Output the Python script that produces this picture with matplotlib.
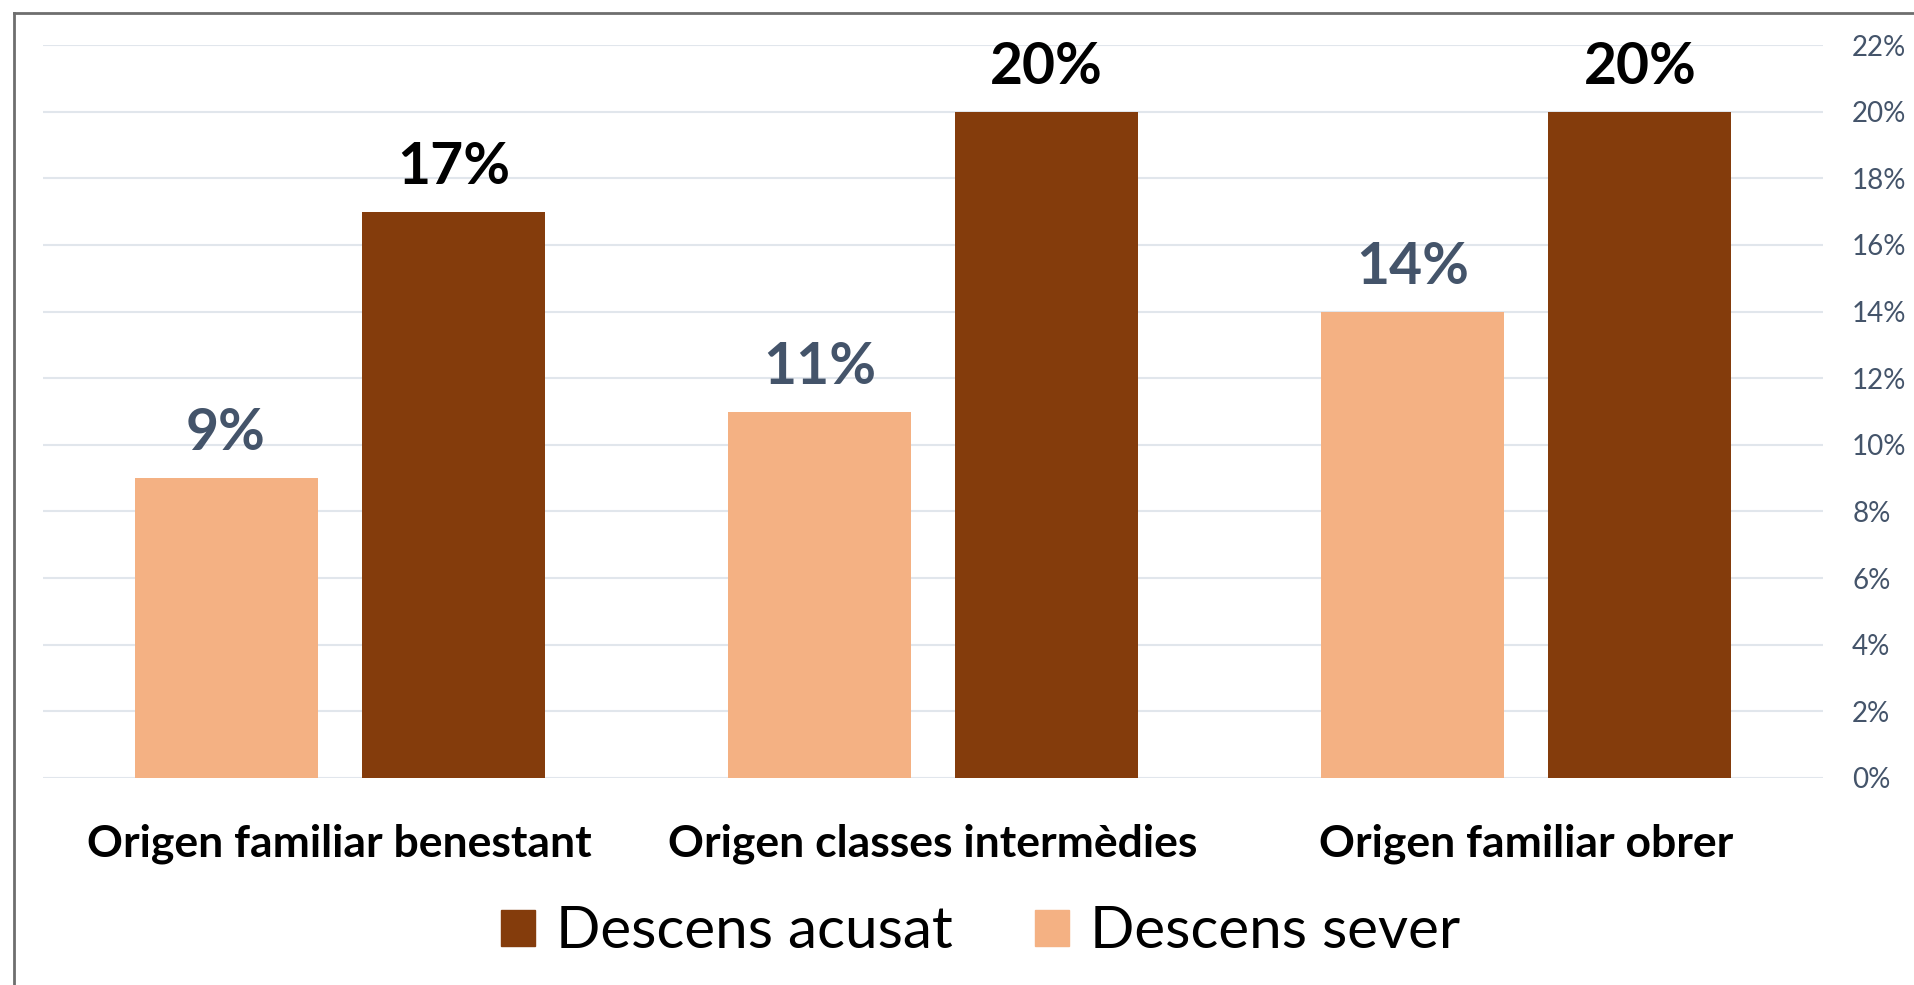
import matplotlib
matplotlib.use("Agg")
import matplotlib.pyplot as plt
from matplotlib.lines import Line2D
from matplotlib.patches import Patch
import numpy as np

plt.rcParams['font.family'] = ['Lato', 'DejaVu Sans']

categories = ["Origen familiar benestant", "Origen classes intermèdies", "Origen familiar obrer"]
sever = [0.09, 0.11, 0.14]
acusat = [0.17, 0.20, 0.20]
sever_labels = ["9%", "11%", "14%"]
acusat_labels = ["17%", "20%", "20%"]
yticks = [0.00, 0.02, 0.04, 0.06, 0.08, 0.10, 0.12, 0.14, 0.16, 0.18, 0.20, 0.22]
ytick_labels = ["0%", "2%", "4%", "6%", "8%", "10%", "12%", "14%", "16%", "18%", "20%", "22%"]

C_LIGHT = "#F4B183"
C_DARK = "#843C0C"
C_SLATE = "#44546A"

W, H = 1915, 985
fig = plt.figure(figsize=(W / 100, H / 100), dpi=100)
ax = fig.add_axes([43 / W, 1 - 778 / H, (1823 - 43) / W, (778 - 45) / H])

x = np.arange(len(categories))
off = 0.1915
bw = 0.3085
b1 = ax.bar(x - off, sever, bw, color=C_LIGHT, zorder=3)
b2 = ax.bar(x + off, acusat, bw, color=C_DARK, zorder=3)

for rect, lab in zip(b1, sever_labels):
    ax.annotate(lab, (rect.get_x() + rect.get_width() / 2, rect.get_height()),
                xytext=(0, 20), textcoords="offset points", ha="center", va="baseline",
                fontsize=41, fontweight="bold", color=C_SLATE)
for rect, lab in zip(b2, acusat_labels):
    ax.annotate(lab, (rect.get_x() + rect.get_width() / 2, rect.get_height()),
                xytext=(0, 20), textcoords="offset points", ha="center", va="baseline",
                fontsize=41, fontweight="bold", color="black")

ax.set_xlim(-0.5, 2.5)
ax.set_ylim(0, 0.22)
ax.set_yticks(yticks)
ax.set_yticklabels(ytick_labels, fontsize=20, color=C_SLATE)
ax.yaxis.tick_right()
ax.tick_params(axis="y", length=0, pad=21)
for t in ax.get_yticklabels():
    t.set_horizontalalignment("left")
ax.set_xticks(x)
ax.set_xticklabels(categories, fontsize=32, fontweight="bold", color="black")
ax.tick_params(axis="x", length=0, pad=33)
ax.yaxis.grid(True, color="#E1E6EC", linewidth=1.5, zorder=0)
ax.set_axisbelow(True)
for s in ax.spines.values():
    s.set_visible(False)

handles = [Patch(color=C_DARK, label="Descens acusat"), Patch(color=C_LIGHT, label="Descens sever")]
fig.legend(handles=handles, loc="center", bbox_to_anchor=(0.512, 1 - 932 / H), ncol=2,
           frameon=False, fontsize=42, handlelength=0.58, handleheight=0.58,
           handletextpad=0.36, columnspacing=1.42)

fig.add_artist(Line2D([14 / W, 14 / W], [0, 1 - 13 / H], transform=fig.transFigure, color="#6E6E6E", linewidth=2))
fig.add_artist(Line2D([14 / W, 1], [1 - 13 / H, 1 - 13 / H], transform=fig.transFigure, color="#6E6E6E", linewidth=2))

fig.savefig("out.png", dpi=100, facecolor="white")
